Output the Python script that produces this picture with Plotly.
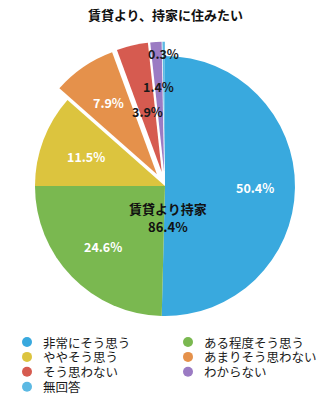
import math
import plotly.graph_objects as go

W, H = 331, 409

# ---- data ----
title = "賃貸より、持家に住みたい"
categories = ["非常にそう思う", "ある程度そう思う", "ややそう思う",
              "あまりそう思わない", "そう思わない", "わからない", "無回答"]
values = [50.4, 24.6, 11.5, 7.9, 3.9, 1.4, 0.3]
center_label = "賃貸より持家"
center_value = 86.4  # 持家 share as reported (from unrounded answers)

# ---- styles ----
colors = ["#39A9DE", "#7AB850", "#DCC43E", "#E5914B", "#D65B50", "#9B7BC3", "#5CB9E3"]
pull_amount = 0.11
pulls = [0, 0, 0, pull_amount, pull_amount, pull_amount, pull_amount]
label_radius = [0.69, 0.67, 0.65, 0.775, 0.59, 0.77, 1.02]
label_colors = ["white"] * 4 + ["#1a1a1a"] * 3
FONT = "Noto Sans CJK JP"

dom_x = [0.0625, 0.9344]
dom_y = [0.1924, 0.898]

fig = go.Figure()
fig.add_trace(go.Pie(
    labels=categories, values=values, sort=False,
    direction="clockwise", rotation=0, pull=pulls,
    marker=dict(colors=colors, line=dict(width=0)),
    textinfo="none", domain=dict(x=dom_x, y=dom_y),
    showlegend=False, hoverinfo="label+percent",
))

# pie geometry as plotly lays it out (pixels)
cx = W * (dom_x[0] + dom_x[1]) / 2
cy = H * (1 - (dom_y[0] + dom_y[1]) / 2)
R = min(W * (dom_x[1] - dom_x[0]), H * (dom_y[1] - dom_y[0])) / 2 / (1 + max(pulls))

annotations = []
total = sum(values)
cum = 0.0
for v, rf, tc in zip(values, label_radius, label_colors):
    theta = 2 * math.pi * (cum + v / 2) / total
    cum += v
    px = cx + rf * R * math.sin(theta)
    py = cy - rf * R * math.cos(theta)
    annotations.append(dict(
        x=px / W, y=1 - py / H, xref="paper", yref="paper",
        text=f"<b>{v}%</b>", showarrow=False,
        font=dict(family=FONT, size=12.5, color=tc),
        xanchor="center", yanchor="middle",
    ))

for txt, dy in [(f"<b>{center_label}</b>", 0.17), (f"<b>{center_value}%</b>", 0.315)]:
    annotations.append(dict(
        x=(cx + 3) / W, y=1 - (cy + dy * R) / H, xref="paper", yref="paper",
        text=txt, showarrow=False,
        font=dict(family=FONT, size=13, color="#111111"),
        xanchor="center", yanchor="middle",
    ))

# legend: two columns of round swatches below the pie
leg_x0, leg_dx = 27, 161
leg_y0, leg_dy = 342, 14.9
for i, (cat, col) in enumerate(zip(categories, colors)):
    lx = leg_x0 + (i % 2) * leg_dx
    ly = leg_y0 + (i // 2) * leg_dy
    fig.add_trace(go.Scatter(
        x=[lx], y=[ly], mode="markers",
        marker=dict(size=10, color=col, line=dict(width=0)),
        showlegend=False, hoverinfo="skip",
    ))
    annotations.append(dict(
        x=lx + 15, y=ly, xref="x", yref="y", text=cat, showarrow=False,
        font=dict(family=FONT, size=12.5, color="#1a1a1a"),
        xanchor="left", yanchor="middle", borderpad=0,
    ))

fig.update_layout(
    width=W, height=H,
    margin=dict(l=0, r=0, t=0, b=0),
    paper_bgcolor="white", plot_bgcolor="rgba(0,0,0,0)",
    title=dict(text=f"<b>{title}</b>", x=0.5, xanchor="center",
               y=1 - 15 / H, yanchor="middle",
               font=dict(family=FONT, size=13, color="#111111")),
    xaxis=dict(visible=False, range=[0, W], domain=[0, 1], fixedrange=True),
    yaxis=dict(visible=False, range=[H, 0], domain=[0, 1], fixedrange=True),
    annotations=annotations,
    showlegend=False,
)

fig.write_html("out.html")
